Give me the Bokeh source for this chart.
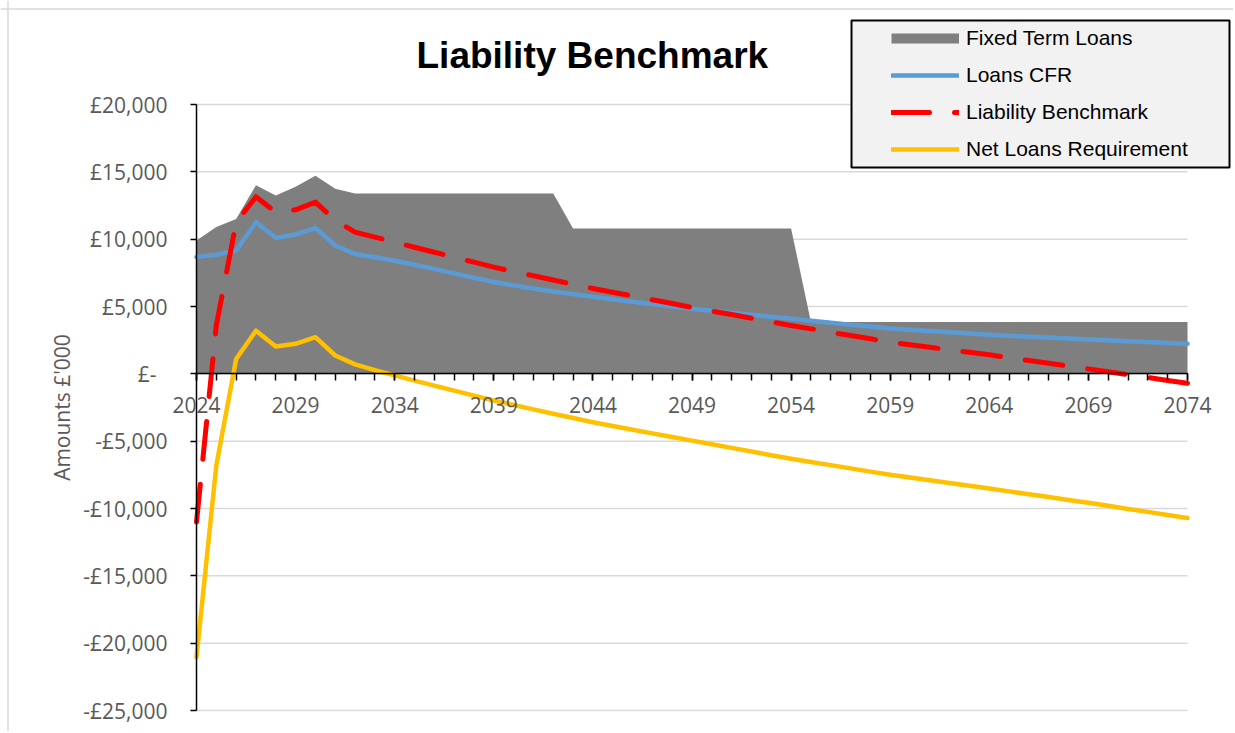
from bokeh.plotting import figure
from bokeh.models import (Range1d, FixedTicker, Legend, LegendItem, BoxAnnotation, Label, Span)
from bokeh.embed import file_html
from bokeh.resources import INLINE

# ---------------- data (amounts in £'000) ----------------
years = list(range(2024, 2075))

fixed_term_loans = [
    9900, 10900, 11500, 14000, 13250, 13900, 14700, 13750, 13400, 13400,
    13400, 13400, 13400, 13400, 13400, 13400, 13400, 13400, 13400, 10800,
    10800, 10800, 10800, 10800, 10800, 10800, 10800, 10800, 10800, 10800,
    10800, 3850, 3850, 3850, 3850, 3850, 3850, 3850, 3850, 3850,
    3850, 3850, 3850, 3850, 3850, 3850, 3850, 3850, 3850, 3850,
    3850,
]

loans_cfr = [
    8670, 8840, 9160, 11260, 10100, 10350, 10820, 9530, 8900, 8660,
    8400, 8100, 7780, 7460, 7130, 6820, 6570, 6340, 6120, 5920,
    5720, 5540, 5360, 5180, 5000, 4830, 4680, 4530, 4380, 4240,
    4100, 3950, 3800, 3650, 3510, 3370, 3270, 3180, 3080, 2990,
    2900, 2830, 2760, 2690, 2620, 2550, 2490, 2420, 2360, 2290,
    2230,
]

liability_benchmark = [
    -11000, 3600, 11240, 13150, 12000, 12180, 12750, 11390, 10520, 10150,
    9780, 9400, 9030, 8660, 8290, 7920, 7600, 7280, 6970, 6650,
    6340, 6060, 5780, 5500, 5220, 4930, 4660, 4400, 4130, 3860,
    3590, 3340, 3090, 2840, 2600, 2350, 2160, 1970, 1780, 1600,
    1410, 1200, 990, 790, 580, 370, 160, -60, -270, -490,
    -700,
]

net_loans_requirement = [
    -21050, -6800, 1100, 3200, 2030, 2230, 2720, 1360, 700, 280,
    -120, -500, -880, -1250, -1620, -1980, -2310, -2640, -2960, -3280,
    -3600, -3880, -4150, -4420, -4690, -4960, -5230, -5500, -5770, -6040,
    -6300, -6540, -6780, -7020, -7260, -7490, -7700, -7900, -8110, -8310,
    -8520, -8730, -8940, -9150, -9370, -9580, -9800, -10030, -10250, -10480,
    -10700,
]

y_ticks = [-25000, -20000, -15000, -10000, -5000, 0, 5000, 10000, 15000, 20000]
y_tick_labels = ["-£25,000", "-£20,000", "-£15,000", "-£10,000", "-£5,000",
                 "£-\u00a0\u00a0", "£5,000", "£10,000", "£15,000", "£20,000"]
x_label_years = [2024, 2029, 2034, 2039, 2044, 2049, 2054, 2059, 2064, 2069, 2074]

series_names = ["Fixed Term Loans", "Loans CFR", "Liability Benchmark", "Net Loans Requirement"]
chart_title = "Liability Benchmark"
y_title = "Amounts £'000"

# ---------------- layout ----------------
W, H = 1233, 731
PLOT_L, PLOT_R, PLOT_T, PLOT_B = 196, 1187, 104, 710  # pixel box of the value axes
y_lo, y_hi = y_ticks[0], y_ticks[-1]
x_lo, x_hi = years[0], years[-1]
ppx = (PLOT_R - PLOT_L) / (x_hi - x_lo)
ppy = (PLOT_B - PLOT_T) / (y_hi - y_lo)
x_range = Range1d(x_lo - PLOT_L / ppx, x_hi + (W - PLOT_R) / ppx)
y_range = Range1d(y_lo - (H - PLOT_B) / ppy, y_hi + PLOT_T / ppy)

GRAY = "#7F7F7F"
BLUE = "#5B9BD5"
RED = "#FF0000"
YELLOW = "#FFC000"
LABEL = "#595959"

p = figure(width=W, height=H, output_backend="svg", toolbar_location=None,
           x_range=x_range, y_range=y_range,
           min_border_left=0, min_border_right=0, min_border_top=0, min_border_bottom=0)
p.outline_line_color = None
p.background_fill_color = "white"
p.border_fill_color = "white"
p.xgrid.visible = False
p.ygrid.visible = False

# chart-area border (light grey left and top edges, as in the reference)
p.add_layout(Span(location=7.5, dimension="height", location_units="screen",
                  line_color="#D9D9D9", line_width=1.5, level="underlay"))
p.add_layout(Span(location=H - 8.5, dimension="width", location_units="screen",
                  line_color="#D9D9D9", line_width=1.5, level="underlay"))

# horizontal gridlines (value axis major units)
p.segment(x0=x_lo, x1=x_hi, y0=y_ticks, y1=y_ticks, line_color="#D9D9D9", line_width=1.5)

# area + lines
area = p.varea(x=years, y1=[0] * len(years), y2=fixed_term_loans, fill_color=GRAY, fill_alpha=1.0)
r_cfr = p.line(years, loans_cfr, line_color=BLUE, line_width=4.5, line_cap="round", line_join="round")
r_lb = p.line(years, liability_benchmark, line_color=RED, line_width=5, line_dash="38 25",
              line_cap="round", line_join="round")
r_nlr = p.line(years, net_loans_requirement, line_color=YELLOW, line_width=4.5,
               line_cap="round", line_join="round")
# legend key for the area: a one-point line draws nothing in the plot, only the legend bar
area_key = p.line(x=years[:1], y=fixed_term_loans[:1], line_color=GRAY, line_width=10, line_cap="butt")

# x axis crossing at zero
xa = p.xaxis[0]
xa.fixed_location = 0
xa.bounds = (x_lo, x_hi)
xa.ticker = FixedTicker(ticks=x_label_years, minor_ticks=years)
xa.axis_line_color = "black"
xa.axis_line_width = 1.5
xa.major_tick_line_color = "black"
xa.minor_tick_line_color = "black"
xa.major_tick_line_width = 1.5
xa.minor_tick_line_width = 1.5
xa.major_tick_in = 0
xa.major_tick_out = 7
xa.minor_tick_in = 0
xa.minor_tick_out = 7
xa.major_label_text_font = "Open Sans"
xa.major_label_text_font_size = "21px"
xa.major_label_text_color = LABEL
xa.major_label_standoff = 16

# y axis at first year
ya = p.yaxis[0]
ya.fixed_location = x_lo
ya.bounds = (y_lo, y_hi)
ya.ticker = FixedTicker(ticks=y_ticks)
ya.major_label_overrides = {t: s for t, s in zip(y_ticks, y_tick_labels)}
ya.axis_line_color = "black"
ya.axis_line_width = 1.5
ya.major_tick_line_color = "black"
ya.major_tick_line_width = 1.5
ya.major_tick_in = 0
ya.major_tick_out = 6
ya.minor_tick_line_color = None
ya.major_label_text_font = "Open Sans"
ya.major_label_text_font_size = "21px"
ya.major_label_text_color = LABEL
ya.major_label_standoff = 23
ya.axis_label = y_title
ya.axis_label_text_font = "Open Sans"
ya.axis_label_text_font_size = "21px"
ya.axis_label_text_font_style = "normal"
ya.axis_label_text_color = LABEL
ya.axis_label_standoff = 4

# title
p.add_layout(Label(x=416, y=H - 55, x_units="screen", y_units="screen", text=chart_title,
                   text_font="Liberation Sans", text_font_size="37px", text_font_style="bold",
                   text_color="black", text_align="left", text_baseline="alphabetic"))

# legend box
box = BoxAnnotation(left=851, right=1229, bottom=H - 167, top=H - 20,
                    left_units="screen", right_units="screen",
                    bottom_units="screen", top_units="screen",
                    fill_color="#F2F2F2", fill_alpha=1.0,
                    line_color="black", line_width=2, line_alpha=1.0)
p.add_layout(box)

legend = Legend(items=[
    LegendItem(label=series_names[0], renderers=[area_key]),
    LegendItem(label=series_names[1], renderers=[r_cfr]),
    LegendItem(label=series_names[2], renderers=[r_lb]),
    LegendItem(label=series_names[3], renderers=[r_nlr]),
], location=(891, H - 162))
legend.background_fill_alpha = 0
legend.border_line_color = None
legend.padding = 0
legend.margin = 0
legend.spacing = 11
legend.glyph_width = 68
legend.glyph_height = 26
legend.label_height = 26
legend.label_standoff = 7
legend.label_text_font = "Liberation Sans"
legend.label_text_font_size = "21px"
legend.label_text_color = "black"
p.add_layout(legend)

open("out.html", "w").write(file_html(p, INLINE))
